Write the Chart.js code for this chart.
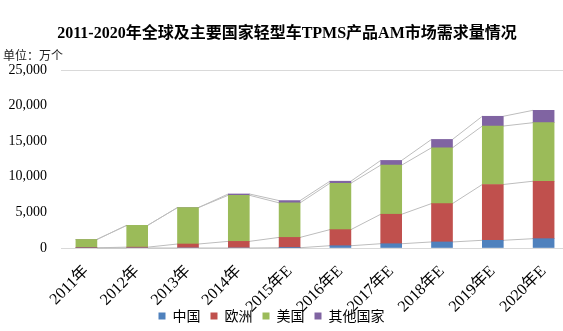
<!DOCTYPE html>
<html>
<head>
<meta charset="utf-8">
<script src="https://cdn.jsdelivr.net/npm/chart.js@4"></script>
<style>
    html, body { margin: 0; padding: 0; background: #fff; overflow: hidden; }
    #wrap { position: relative; width: 570px; height: 331px; }
    #title { position: absolute; left: 0; width: 574px; top: 19px; text-align: center;
        font: bold 16px "Liberation Serif", "Noto Sans CJK SC", serif; color: #000; }
    #unit { position: absolute; left: 3px; top: 46px; font: 12px "Noto Sans CJK SC", sans-serif; color: #222; }
    canvas { position: absolute; left: 0; top: 0; }
</style>
</head>
<body>
<div id="wrap">
    <canvas id="mainChart" width="570" height="331"></canvas>
    <div id="title">2011-2020年全球及主要国家轻型车TPMS产品AM市场需求量情况</div>
    <div id="unit">单位：万个</div>
</div>
<script>
// Data (万个)
const years = ['2011年', '2012年', '2013年', '2014年', '2015年E', '2016年E', '2017年E', '2018年E', '2019年E', '2020年E'];
const china  = [0, 0, 0, 0, 40, 320, 600, 850, 1080, 1310];
const europe = [30, 120, 560, 930, 1450, 2260, 4140, 5390, 7840, 8070];
const usa    = [1170, 3060, 5120, 6480, 4850, 6520, 6900, 7840, 8210, 8220];
const others = [0, 0, 0, 180, 320, 280, 660, 1170, 1370, 1740];
const yTicks = [0, 5000, 10000, 15000, 20000, 25000];

// Series lines between stacked segments
const seriesLines = {
    id: 'seriesLines',
    beforeDatasetsDraw(chart) {
        const ctx = chart.ctx;
        ctx.save();
        ctx.strokeStyle = '#BDBDBD';
        ctx.lineWidth = 1;
        chart.data.datasets.forEach((ds, d) => {
            const pts = chart.getDatasetMeta(d).data;
            for (let i = 0; i < pts.length - 1; i++) {
                const a = pts[i], b = pts[i + 1];
                ctx.beginPath();
                ctx.moveTo(a.x + a.width / 2, a.y);
                ctx.lineTo(b.x - b.width / 2, b.y);
                ctx.stroke();
            }
        });
        ctx.restore();
    }
};

// x labels overlap the legend in the original, so let them spill down;
// and nudge the legend a bit left
const layoutTweak = {
    id: 'layoutTweak',
    afterLayout(chart) {
        chart.scales.x.bottom = chart.height;
        chart.legend.left -= 13;
        chart.legend.right -= 13;
        chart.legend.top += 2;
        chart.legend.bottom += 2;
    }
};

const serif = { family: '"Liberation Serif", "Noto Sans CJK SC", serif', size: 14 };

new Chart(document.getElementById('mainChart'), {
    type: 'bar',
    data: {
        labels: years,
        datasets: [
            { label: '中国', data: china, backgroundColor: '#4F81BD' },
            { label: '欧洲', data: europe, backgroundColor: '#C0504D' },
            { label: '美国', data: usa, backgroundColor: '#9BBB59' },
            { label: '其他国家', data: others, backgroundColor: '#8064A2' }
        ]
    },
    options: {
        responsive: false,
        animation: false,
        layout: { padding: { top: 70, right: 1, left: 0, bottom: 0 } },
        datasets: { bar: { barThickness: 21 } },
        scales: {
            x: {
                stacked: true,
                grid: { display: false },
                border: { color: '#D9D9D9' },
                ticks: { color: '#000', font: { family: serif.family, size: 16 }, minRotation: 45, maxRotation: 45, padding: 6 },
                afterFit: s => { s.height = 49; }
            },
            y: {
                stacked: true,
                min: 0,
                max: 25000,
                afterBuildTicks: s => { s.ticks = yTicks.map(v => ({ value: v })); },
                afterFit: s => { s.width = 61; },
                border: { display: false },
                grid: {
                    drawTicks: false,
                    color: c => c.tick && c.tick.value === 25000 ? '#D9D9D9' : 'rgba(0,0,0,0)'
                },
                ticks: {
                    color: '#000',
                    font: serif,
                    padding: 14,
                    callback: v => v.toLocaleString('en-US')
                }
            }
        },
        plugins: {
            legend: {
                position: 'bottom',
                labels: {
                    boxWidth: 7,
                    boxHeight: 7,
                    padding: 10,
                    color: '#000',
                    font: { family: '"Noto Sans CJK SC", sans-serif', size: 14 }
                }
            },
            tooltip: { enabled: false }
        }
    },
    plugins: [seriesLines, layoutTweak]
});
</script>
</body>
</html>
